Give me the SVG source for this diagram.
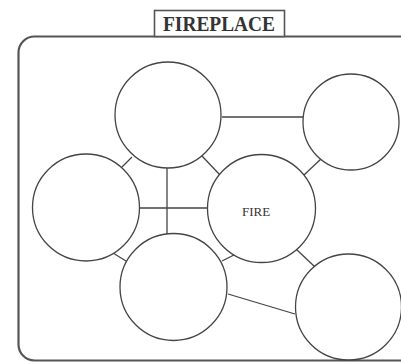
<svg xmlns="http://www.w3.org/2000/svg" width="401" height="362" viewBox="0 0 401 362">
<style>
.c{fill:#fff;stroke:#444;stroke-width:1.3}
.l{stroke:#444;stroke-width:1.3;fill:none}
.t{font-family:"Liberation Serif",serif;fill:#333}
</style>
<rect x="0" y="0" width="401" height="362" fill="#fff"/>
<g id="frame">
<rect x="18.5" y="36.5" width="420" height="324" rx="16" fill="none" stroke="#555" stroke-width="2.2"/>
</g>
<g id="title">
<rect x="154.5" y="10.5" width="130" height="26" fill="#fff" stroke="#555" stroke-width="1.6"/>
<text class="t" x="219" y="31" text-anchor="middle" font-size="21" font-weight="bold" textLength="112" lengthAdjust="spacingAndGlyphs">FIREPLACE</text>
</g>
<g id="connectors">
<line class="l" x1="222" y1="117" x2="303" y2="117"/>
<line class="l" x1="132" y1="157" x2="121" y2="168"/>
<line class="l" x1="202" y1="156" x2="220" y2="175"/>
<line class="l" x1="322" y1="158" x2="304" y2="175"/>
<line class="l" x1="167" y1="168" x2="167" y2="234"/>
<line class="l" x1="140" y1="208" x2="207" y2="208"/>
<line class="l" x1="113" y1="253" x2="126" y2="261"/>
<line class="l" x1="222" y1="261" x2="234" y2="255"/>
<line class="l" x1="296" y1="249" x2="315" y2="267"/>
<line class="l" x1="228" y1="294" x2="295" y2="314"/>
</g>
<g id="node-top-left"><circle class="c" cx="168" cy="115" r="53"/></g>
<g id="node-top-right"><circle class="c" cx="351" cy="122" r="48"/></g>
<g id="node-left"><circle class="c" cx="86" cy="207.5" r="53.5"/></g>
<g id="node-fire"><circle class="c" cx="261.5" cy="208.5" r="54"/>
<text class="t" x="256" y="216" text-anchor="middle" font-size="13">FIRE</text></g>
<g id="node-bottom-middle"><circle class="c" cx="173.5" cy="287" r="53.5"/></g>
<g id="node-bottom-right"><circle class="c" cx="348.5" cy="307" r="53"/></g>
</svg>
